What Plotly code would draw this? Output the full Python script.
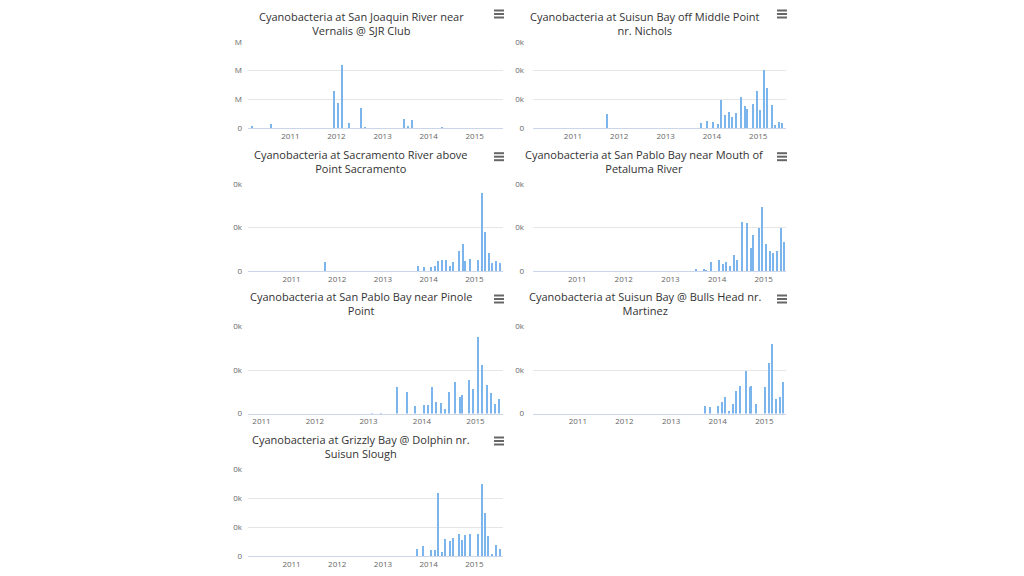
import plotly.graph_objects as go

# page offset (body margin) and figure size
OFF = 8
W, H = 1024 - 2 * OFF, 576 - 2 * OFF

# ---------------- data ----------------
titles = [
    ["Cyanobacteria at San Joaquin River near", "Vernalis @ SJR Club"],
    ["Cyanobacteria at Suisun Bay off Middle Point", "nr. Nichols"],
    ["Cyanobacteria at Sacramento River above", "Point Sacramento"],
    ["Cyanobacteria at San Pablo Bay near Mouth of", "Petaluma River"],
    ["Cyanobacteria at San Pablo Bay near Pinole", "Point"],
    ["Cyanobacteria at Suisun Bay @ Bulls Head nr.", "Martinez"],
    ["Cyanobacteria at Grizzly Bay @ Dolphin nr.", "Suisun Slough"],
]

sjr_dates = ["2010-03-01", "2010-05-10", "2010-08-01", "2011-02-10", "2011-06-10",
             "2011-12-16", "2012-01-16", "2012-02-16", "2012-04-12", "2012-07-15",
             "2012-08-12", "2013-01-30", "2013-06-20", "2013-07-20", "2013-08-25",
             "2013-10-20", "2014-03-20", "2014-04-15", "2014-10-10", "2015-02-10",
             "2015-06-10"]
sjr_vals = [4, 0.5, 7.5, 0.5, 0.5, 65, 43.5, 109.5, 10.5, 36, 3, 1, 17.5, 4.5, 14.5,
            0.5, 1, 1.5, 0.5, 0.5, 0.5]

mid_dates = ["2011-09-25", "2013-10-05", "2013-11-20", "2014-01-12", "2014-02-15",
             "2014-03-15", "2014-04-12", "2014-05-15", "2014-06-12", "2014-07-08",
             "2014-08-18", "2014-09-20", "2014-10-05", "2014-11-18", "2014-12-20",
             "2015-01-15", "2015-02-14", "2015-03-15", "2015-04-16", "2015-05-15",
             "2015-06-14", "2015-07-09"]
mid_vals = [5.0, 2.0, 2.5, 2.4, 1.7, 9.8, 4.6, 5.9, 4.0, 5.5, 10.8, 7.7, 6.8, 8.4,
            12.9, 6.5, 20.4, 14.0, 8.1, 1.2, 2.3, 1.8]

sac_dates = ["2011-09-27", "2013-10-05", "2013-11-25", "2014-01-22", "2014-02-20",
             "2014-03-18", "2014-04-20", "2014-05-18", "2014-06-17", "2014-07-16",
             "2014-08-28", "2014-10-01", "2014-10-15", "2014-11-28", "2015-01-30",
             "2015-02-28", "2015-03-28", "2015-04-27", "2015-05-26", "2015-06-24",
             "2015-07-26"]
sac_vals = [10, 6, 4, 4.5, 6, 11.5, 12.5, 12.5, 6, 10, 22.5, 31, 11.5, 14, 12.5,
            89.5, 45, 21, 9, 11.5, 8.5]

pet_dates = ["2013-07-22", "2013-09-20", "2013-10-08", "2013-11-18", "2014-01-18",
             "2014-02-14", "2014-03-14", "2014-04-12", "2014-05-12", "2014-06-10",
             "2014-07-12", "2014-08-25", "2014-09-27", "2014-10-08", "2014-11-22",
             "2014-12-20", "2015-01-20", "2015-02-18", "2015-03-18", "2015-04-12",
             "2015-05-15", "2015-06-06"]
pet_vals = [2.5, 2, 0.5, 10.5, 12.5, 7.5, 10, 6, 18.5, 12.5, 56, 55, 26, 41.5, 49,
            74, 30.5, 23, 20.5, 23, 49, 33]

pin_dates = ["2013-01-22", "2013-03-25", "2013-07-18", "2013-09-24", "2013-11-14",
             "2014-01-12", "2014-02-10", "2014-03-10", "2014-04-08", "2014-05-12",
             "2014-06-07", "2014-07-08", "2014-08-18", "2014-09-20", "2014-10-05",
             "2014-11-18", "2014-12-16", "2015-01-22", "2015-02-18", "2015-03-18",
             "2015-04-16", "2015-05-15", "2015-06-10"]
pin_vals = [1, 1, 31.5, 25.5, 9, 10, 10.5, 31.5, 14, 13, 6, 25.5, 37, 20, 22, 39.5,
            29, 88.5, 56.5, 33, 24, 12, 17.5]

bul_dates = ["2013-09-20", "2013-11-03", "2014-01-05", "2014-02-03", "2014-03-01",
             "2014-03-30", "2014-04-27", "2014-05-27", "2014-06-28", "2014-08-08",
             "2014-09-10", "2014-09-22", "2014-10-30", "2015-01-05", "2015-02-03",
             "2015-03-01", "2015-03-30", "2015-05-01", "2015-05-27"]
bul_vals = [9.5, 7.5, 9, 14, 20, 4, 11.5, 26, 32, 49, 30.5, 32, 12, 31, 58.5, 81,
            17, 19, 37]

gri_dates = ["2013-10-01", "2013-11-18", "2014-01-22", "2014-02-18", "2014-03-18",
             "2014-04-16", "2014-05-15", "2014-06-17", "2014-07-16", "2014-08-28",
             "2014-09-27", "2014-10-15", "2014-11-25", "2015-01-30", "2015-02-28",
             "2015-03-28", "2015-04-23", "2015-05-26", "2015-06-24", "2015-07-26"]
gri_vals = [2.4, 3.4, 2.1, 2.1, 21.8, 1.4, 6.0, 5.3, 6.2, 7.6, 5.6, 7.2, 7.6, 7.6,
            24.8, 14.7, 6.9, 0.8, 3.8, 2.5]

all_dates = [sjr_dates, mid_dates, sac_dates, pet_dates, pin_dates, bul_dates, gri_dates]
all_vals = [sjr_vals, mid_vals, sac_vals, pet_vals, pin_vals, bul_vals, gri_vals]

x_ranges = [
    ["2010-01-30", "2015-08-14"],
    ["2010-02-20", "2015-08-08"],
    ["2010-01-18", "2015-08-18"],
    ["2010-01-20", "2015-06-25"],
    ["2010-10-01", "2015-07-08"],
    ["2010-01-15", "2015-06-20"],
    ["2010-01-18", "2015-08-18"],
]
y_ticks = [
    [0, 50, 100, 150],
    [0, 10, 20, 30],
    [0, 50, 100],
    [0, 50, 100],
    [0, 50, 100],
    [0, 50, 100],
    [0, 10, 20, 30],
]
y_ticktext = [
    ["0", "M", "M", "M"],
    ["0", "0k", "0k", "0k"],
    ["0", "0k", "0k"],
    ["0", "0k", "0k"],
    ["0", "0k", "0k"],
    ["0", "0k", "0k"],
    ["0", "0k", "0k", "0k"],
]

# ---------------- layout geometry (target screen pixels) ----------------
col_x = [(248, 503), (533, 786)]
row_y = [(41.7, 128.3), (184.2, 271.0), (326.5, 413.5), (469.0, 556.0)]
title_cx = [361, 644.5]
title_mid_y = [23.0, 161.5, 303.5, 446.3]
menu_y = [14, 156.7, 299, 441]
menu_x = [499, 782]
label_standoff = [5, 8]


def px(x):
    return (x - OFF) / W


def py(y):
    return 1 - (y - OFF) / H


BAR = "#7cb5ec"
FONT = "Open Sans, Lucida Grande, DejaVu Sans, sans-serif"
DAY_MS = 86400000

fig = go.Figure()
layout = dict(
    width=W, height=H, margin=dict(l=0, r=0, t=0, b=0, autoexpand=False),
    paper_bgcolor="white", plot_bgcolor="white",
    showlegend=False, bargap=0, font=dict(family=FONT),
)
annotations = []
shapes = []

for i in range(7):
    r, c = divmod(i, 2)
    n = i + 1
    xa = "x" if n == 1 else f"x{n}"
    ya = "y" if n == 1 else f"y{n}"
    fig.add_trace(go.Bar(
        x=all_dates[i], y=all_vals[i], xaxis=xa, yaxis=ya,
        marker=dict(color=BAR, line=dict(width=0)),
        width=[8 * DAY_MS] * len(all_vals[i]),
    ))
    x0, x1 = col_x[c]
    y0, y1 = row_y[r]
    ymax = y_ticks[i][-1]
    layout["xaxis" if n == 1 else f"xaxis{n}"] = dict(
        domain=[px(x0), px(x1)], anchor=ya, type="date",
        range=x_ranges[i], showgrid=False, zeroline=False,
        showline=True, linecolor="#ccd6eb", linewidth=1,
        ticks="", dtick="M12", tick0="2011-01-01", tickformat="%Y",
        tickfont=dict(size=8, color="#666666", family=FONT),
        fixedrange=True,
    )
    layout["yaxis" if n == 1 else f"yaxis{n}"] = dict(
        domain=[py(y1), py(y0)], anchor=xa,
        range=[0, ymax], tickvals=y_ticks[i], ticktext=y_ticktext[i],
        showgrid=True, gridcolor="#e6e6e6", gridwidth=1,
        zeroline=False, showline=False, ticks="",
        ticklabelstandoff=label_standoff[c],
        tickfont=dict(size=8, color="#666666", family=FONT),
        fixedrange=True,
    )
    annotations.append(dict(
        text="<br>".join(titles[i]), xref="paper", yref="paper",
        x=px(title_cx[c]), y=py(title_mid_y[r]),
        xanchor="center", yanchor="middle", showarrow=False, align="center",
        font=dict(size=11, color="#333333", family=FONT),
    ))
    mx, my = menu_x[c], menu_y[r]
    for dy in (-3.5, 0, 3.5):
        shapes.append(dict(
            type="line", xref="paper", yref="paper",
            x0=px(mx - 5), x1=px(mx + 5),
            y0=py(my + dy), y1=py(my + dy),
            line=dict(color="#666666", width=2),
        ))

layout["annotations"] = annotations
layout["shapes"] = shapes
fig.update_layout(**layout)
fig.write_html("out.html")
